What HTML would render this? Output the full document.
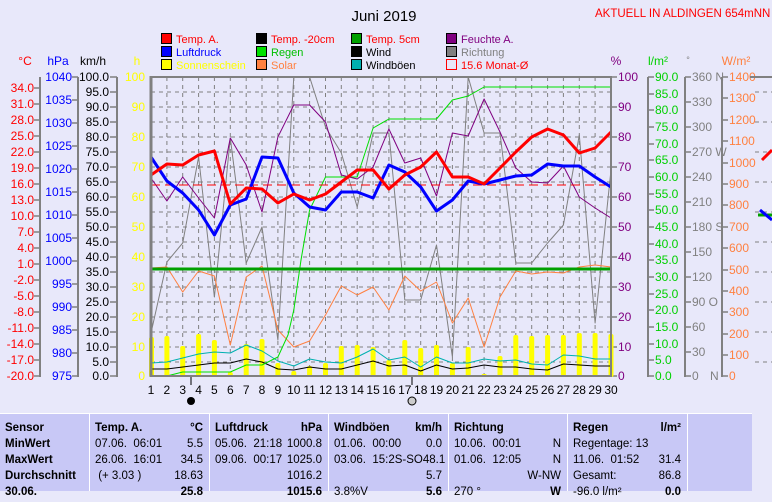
<!DOCTYPE html>
<html><head><meta charset="utf-8"><style>
body{margin:0;width:772px;height:490px;overflow:hidden;background:#e8e8fa;font-family:"Liberation Sans",sans-serif;position:relative}
svg{position:absolute;left:0;top:0}
svg text{font-family:"Liberation Sans",sans-serif;font-size:12px}
.tb{position:absolute;left:0;top:413px;width:752px;height:77px;background:#c8c8f6;border-top:1px solid #fff;font-size:11.5px;color:#000}
.c{position:absolute;top:0;height:77px;border-left:1px solid #fff}
.r{position:absolute;left:5px;right:6px;height:16px;display:flex;justify-content:space-between;white-space:nowrap}
.b{font-weight:bold}
</style></head><body>
<svg width="772" height="413" viewBox="0 0 772 413">
<text x="384" y="21" font-size="15" text-anchor="middle" style="font-size:15px">Juni 2019</text>
<text x="595" y="17" fill="#ff0000" style="font-size:11.5px">AKTUELL IN ALDINGEN 654mNN</text>
<!-- legend -->
<g style="font-size:11px" stroke="#000" stroke-width="1">
<rect x="161.5" y="33.5" width="10" height="10" fill="#ff0000"/><rect x="161.5" y="46.5" width="10" height="10" fill="#0000ff"/><rect x="161.5" y="59.5" width="10" height="10" fill="#ffff00"/>
<rect x="256.5" y="33.5" width="10" height="10" fill="#000"/><rect x="256.5" y="46.5" width="10" height="10" fill="#00e000"/><rect x="256.5" y="59.5" width="10" height="10" fill="#ff8040"/>
<rect x="351.5" y="33.5" width="10" height="10" fill="#00a000"/><rect x="351.5" y="46.5" width="10" height="10" fill="#000"/><rect x="351.5" y="59.5" width="10" height="10" fill="#00b0b0"/>
<rect x="446.5" y="33.5" width="10" height="10" fill="#800080"/><rect x="446.5" y="46.5" width="10" height="10" fill="#808080"/><rect x="446.5" y="59.5" width="10" height="10" fill="none" stroke="#ff0000"/>
</g>
<g style="font-size:11px" font-size="11">
<text x="176" y="43" fill="#ff0000" style="font-size:11px">Temp. A.</text><text x="176" y="56" fill="#0000ff" style="font-size:11px">Luftdruck</text><text x="176" y="69" fill="#ffff00" style="font-size:11px">Sonnenschein</text>
<text x="271" y="43" fill="#ff0000" style="font-size:11px">Temp. -20cm</text><text x="271" y="56" fill="#00c000" style="font-size:11px">Regen</text><text x="271" y="69" fill="#ff8040" style="font-size:11px">Solar</text>
<text x="366" y="43" fill="#ff0000" style="font-size:11px">Temp. 5cm</text><text x="366" y="56" fill="#000" style="font-size:11px">Wind</text><text x="366" y="69" fill="#000" style="font-size:11px">Windböen</text>
<text x="461" y="43" fill="#800080" style="font-size:11px">Feuchte A.</text><text x="461" y="56" fill="#808080" style="font-size:11px">Richtung</text><text x="461" y="69" fill="#ff0000" style="font-size:11px">15.6 Monat-Ø</text>
</g>
<!-- axis titles -->
<text x="25" y="65" fill="#ff0000" text-anchor="middle">°C</text>
<text x="58" y="65" fill="#0000ff" text-anchor="middle">hPa</text>
<text x="93" y="65" fill="#000" text-anchor="middle">km/h</text>
<text x="137" y="65" fill="#ffff00" text-anchor="middle">h</text>
<text x="616" y="65" fill="#800080" text-anchor="middle">%</text>
<text x="658" y="65" fill="#00d000" text-anchor="middle">l/m²</text>
<text x="688" y="63" fill="#808080" text-anchor="middle" style="font-size:9px">°</text>
<text x="736" y="65" fill="#ff8040" text-anchor="middle">W/m²</text>
<!-- axis lines -->
<g stroke="#808080" stroke-width="2" fill="none">
<line x1="40" y1="77" x2="40" y2="377"/><line x1="78" y1="77" x2="78" y2="377"/><line x1="117" y1="77" x2="117" y2="377"/>
<line x1="648" y1="77" x2="648" y2="377"/><line x1="685" y1="77" x2="685" y2="377"/><line x1="722" y1="77" x2="722" y2="377"/>
</g>
<!-- temp labels -->
<g fill="#ff0000" text-anchor="end">
<text x="34" y="92">34.0</text><text x="34" y="108">31.0</text><text x="34" y="124">28.0</text><text x="34" y="140">25.0</text><text x="34" y="156">22.0</text><text x="34" y="172">19.0</text><text x="34" y="188">16.0</text><text x="34" y="204">13.0</text><text x="34" y="220">10.0</text><text x="34" y="236">7.0</text><text x="34" y="252">4.0</text><text x="34" y="268">1.0</text><text x="34" y="284">-2.0</text><text x="34" y="300">-5.0</text><text x="34" y="316">-8.0</text><text x="34" y="332">-11.0</text><text x="34" y="348">-14.0</text><text x="34" y="364">-17.0</text><text x="34" y="380">-20.0</text>
</g>
<g stroke="#808080" stroke-width="1.5">
<path d="M34 88H40M34 104H40M34 120H40M34 136H40M34 152H40M34 168H40M34 184H40M34 200H40M34 216H40M34 232H40M34 248H40M34 264H40M34 280H40M34 296H40M34 312H40M34 328H40M34 344H40M34 360H40M34 376H40"/>
<path d="M72 77H78M72 100H78M72 123H78M72 146H78M72 169H78M72 192H78M72 215H78M72 238H78M72 261H78M72 284H78M72 307H78M72 330H78M72 353H78M72 376H78"/>
<path d="M110 77H117M110 92H117M110 107H117M110 122H117M110 137H117M110 152H117M110 167H117M110 182H117M110 197H117M110 212H117M110 227H117M110 242H117M110 257H117M110 272H117M110 287H117M110 302H117M110 317H117M110 332H117M110 347H117M110 362H117M110 376H117"/>
<path d="M611 77H617M611 107H617M611 137H617M611 167H617M611 197H617M611 227H617M611 257H617M611 287H617M611 317H617M611 347H617M611 376H617"/>
<path d="M648 77H654M648 94H654M648 110H654M648 127H654M648 144H654M648 160H654M648 177H654M648 194H654M648 210H654M648 227H654M648 244H654M648 260H654M648 277H654M648 294H654M648 310H654M648 327H654M648 344H654M648 360H654M648 376H654"/>
<path d="M685 77H691M685 102H691M685 127H691M685 152H691M685 177H691M685 202H691M685 227H691M685 252H691M685 277H691M685 302H691M685 327H691M685 352H691M685 376H691"/>
<path d="M722 77H728M722 98H728M722 120H728M722 141H728M722 163H728M722 184H728M722 205H728M722 227H728M722 248H728M722 270H728M722 291H728M722 312H728M722 334H728M722 355H728M722 376H728"/>
</g>
<g fill="#0000ff" text-anchor="end">
<text x="72" y="81">1040</text><text x="72" y="104">1035</text><text x="72" y="127">1030</text><text x="72" y="150">1025</text><text x="72" y="173">1020</text><text x="72" y="196">1015</text><text x="72" y="219">1010</text><text x="72" y="242">1005</text><text x="72" y="265">1000</text><text x="72" y="288">995</text><text x="72" y="311">990</text><text x="72" y="334">985</text><text x="72" y="357">980</text><text x="72" y="380">975</text>
</g>
<g fill="#000" text-anchor="end">
<text x="109" y="81">100.0</text><text x="109" y="96">95.0</text><text x="109" y="111">90.0</text><text x="109" y="126">85.0</text><text x="109" y="141">80.0</text><text x="109" y="156">75.0</text><text x="109" y="171">70.0</text><text x="109" y="186">65.0</text><text x="109" y="201">60.0</text><text x="109" y="216">55.0</text><text x="109" y="231">50.0</text><text x="109" y="246">45.0</text><text x="109" y="261">40.0</text><text x="109" y="276">35.0</text><text x="109" y="291">30.0</text><text x="109" y="306">25.0</text><text x="109" y="321">20.0</text><text x="109" y="336">15.0</text><text x="109" y="351">10.0</text><text x="109" y="366">5.0</text><text x="109" y="380">0.0</text>
</g>
<g fill="#ffff00" text-anchor="end">
<text x="145" y="81">100</text><text x="145" y="111">90</text><text x="145" y="141">80</text><text x="145" y="171">70</text><text x="145" y="201">60</text><text x="145" y="231">50</text><text x="145" y="261">40</text><text x="145" y="291">30</text><text x="145" y="321">20</text><text x="145" y="351">10</text><text x="145" y="380">0</text>
</g>
<g fill="#800080">
<text x="618" y="81">100</text><text x="618" y="111">90</text><text x="618" y="141">80</text><text x="618" y="171">70</text><text x="618" y="201">60</text><text x="618" y="231">50</text><text x="618" y="261">40</text><text x="618" y="291">30</text><text x="618" y="321">20</text><text x="618" y="351">10</text><text x="618" y="380">0</text>
</g>
<g fill="#00d000">
<text x="655" y="81">90.0</text><text x="655" y="98">85.0</text><text x="655" y="114">80.0</text><text x="655" y="131">75.0</text><text x="655" y="148">70.0</text><text x="655" y="164">65.0</text><text x="655" y="181">60.0</text><text x="655" y="198">55.0</text><text x="655" y="214">50.0</text><text x="655" y="231">45.0</text><text x="655" y="248">40.0</text><text x="655" y="264">35.0</text><text x="655" y="281">30.0</text><text x="655" y="298">25.0</text><text x="655" y="314">20.0</text><text x="655" y="331">15.0</text><text x="655" y="348">10.0</text><text x="655" y="364">5.0</text><text x="655" y="380">0.0</text>
</g>
<g fill="#808080">
<text x="692" y="81">360 N</text><text x="692" y="106">330</text><text x="692" y="131">300</text><text x="692" y="156">270 W</text><text x="692" y="181">240</text><text x="692" y="206">210</text><text x="692" y="231">180 S</text><text x="692" y="256">150</text><text x="692" y="281">120</text><text x="692" y="306">90  O</text><text x="692" y="331">60</text><text x="692" y="356">30</text><text x="692" y="380">0</text><text x="710" y="380">N</text>
</g>
<g fill="#ff8040">
<text x="729" y="81">1400</text><text x="729" y="102">1300</text><text x="729" y="124">1200</text><text x="729" y="145">1100</text><text x="729" y="167">1000</text><text x="729" y="188">900</text><text x="729" y="209">800</text><text x="729" y="231">700</text><text x="729" y="252">600</text><text x="729" y="274">500</text><text x="729" y="295">400</text><text x="729" y="316">300</text><text x="729" y="338">200</text><text x="729" y="359">100</text><text x="729" y="380">0</text>
</g>
<!-- grid -->
<g stroke="#808080" stroke-width="1" stroke-dasharray="4,4">
<path d="M151 92H611M151 107H611M151 122H611M151 137H611M151 152H611M151 167H611M151 182H611M151 197H611M151 212H611M151 227H611M151 242H611M151 257H611M151 272H611M151 287H611M151 302H611M151 317H611M151 332H611M151 347H611M151 362H611"/>
<path d="M166.9 77V376M182.7 77V376M198.6 77V376M214.4 77V376M230.3 77V376M246.2 77V376M262 77V376M277.9 77V376M293.8 77V376M309.6 77V376M325.5 77V376M341.3 77V376M357.2 77V376M373.1 77V376M388.9 77V376M404.8 77V376M420.7 77V376M436.5 77V376M452.4 77V376M468.2 77V376M484.1 77V376M500 77V376M515.8 77V376M531.7 77V376M547.6 77V376M563.4 77V376M579.3 77V376M595.1 77V376"/>
</g>
<!-- sunshine bars -->
<g fill="#ffff00">
<rect x="149" y="337" width="5" height="40" rx="2"/><rect x="164.4" y="336" width="5" height="41" rx="2"/><rect x="180.2" y="346" width="5" height="31" rx="2"/><rect x="196.1" y="334" width="5" height="43" rx="2"/><rect x="211.9" y="340" width="5" height="37" rx="2"/><rect x="227.8" y="372" width="5" height="5" rx="2"/><rect x="243.7" y="344" width="5" height="33" rx="2"/><rect x="259.5" y="339" width="5" height="38" rx="2"/><rect x="275.4" y="363" width="5" height="14" rx="2"/><rect x="291.3" y="371" width="5" height="6" rx="2"/><rect x="307.1" y="366" width="5" height="11" rx="2"/><rect x="323" y="363" width="5" height="14" rx="2"/><rect x="338.8" y="346" width="5" height="31" rx="2"/><rect x="354.7" y="345" width="5" height="32" rx="2"/><rect x="370.6" y="347" width="5" height="30" rx="2"/><rect x="386.4" y="360" width="5" height="17" rx="2"/><rect x="402.3" y="340" width="5" height="37" rx="2"/><rect x="418.2" y="348" width="5" height="29" rx="2"/><rect x="434" y="345" width="5" height="32" rx="2"/><rect x="449.9" y="363" width="5" height="14" rx="2"/><rect x="465.7" y="347" width="5" height="30" rx="2"/><rect x="481.6" y="374" width="5" height="3" rx="1"/><rect x="497.5" y="356" width="5" height="21" rx="2"/><rect x="513.3" y="335" width="5" height="42" rx="2"/><rect x="529.2" y="336" width="5" height="41" rx="2"/><rect x="545.1" y="335" width="5" height="42" rx="2"/><rect x="560.9" y="335" width="5" height="42" rx="2"/><rect x="576.8" y="333" width="5" height="44" rx="2"/><rect x="592.6" y="333" width="5" height="44" rx="2"/><rect x="608.5" y="334" width="5" height="43" rx="2"/>
</g>
<g fill="none" stroke-linejoin="round">
<polyline stroke="#808080" stroke-width="1" points="151,333 166.9,262 182.7,243 198.6,157 214.4,297 230.3,138 246.2,263 262,227 277.9,340 293.8,77 309.6,77 325.5,127 341.3,153 357.2,207 373.1,133 388.9,133 404.8,300 420.7,300 436.5,245 452.4,357 468.2,77 484.1,133 500,133 515.8,263 531.7,263 547.6,243 563.4,225 579.3,135 595.1,323 611,170"/>
<polyline stroke="#ff8040" stroke-width="1" points="151,268 166.9,267 182.7,292 198.6,271 214.4,276 230.3,345 246.2,277 262,266 277.9,330 293.8,347 309.6,341 325.5,315 341.3,286 357.2,295 373.1,287 388.9,310 404.8,276 420.7,291 436.5,282 452.4,323 468.2,298 484.1,347 500,297 515.8,271 531.7,274 547.6,272 563.4,273 579.3,267 595.1,265 611,267"/>
<polyline stroke="#00b0b0" stroke-width="1" points="151,363 166.9,362 182.7,358 198.6,354 214.4,352 230.3,353 246.2,345 262,351 277.9,361 293.8,366 309.6,359 325.5,362 341.3,363 357.2,357 373.1,349 388.9,360 404.8,357 420.7,367 436.5,357 452.4,363 468.2,363 484.1,359 500,361 515.8,360 531.7,364 547.6,365 563.4,355 579.3,356 595.1,359 611,359"/>
<polyline stroke="#000" stroke-width="1" points="151,369 166.9,369 182.7,367 198.6,365 214.4,363 230.3,363 246.2,359 262,362 277.9,369 293.8,370 309.6,367 325.5,369 341.3,369 357.2,365 373.1,361 388.9,366 404.8,365 420.7,371 436.5,365 452.4,369 468.2,368 484.1,365 500,367 515.8,367 531.7,369 547.6,370 563.4,364 579.3,365 595.1,366 611,366"/>
<polyline stroke="#00e000" stroke-width="1" points="166.9,376 182.7,372 198.6,372 214.4,372 230.3,372 246.2,365 262,365 277.9,357 288,335 293.8,310 301,260 309.6,210 325.5,177 341.3,177 357.2,177 373.1,128 388.9,119 404.8,119 420.7,119 436.5,119 452.4,100 468.2,96 484.1,87 611,87"/>
<polyline stroke="#800080" stroke-width="1" points="151,178 166.9,201 182.7,177 198.6,198 214.4,218 230.3,138 246.2,165 262,212 277.9,137 293.8,105 309.6,105 325.5,122 341.3,175 357.2,179 373.1,167 388.9,129 404.8,163 420.7,158 436.5,196 452.4,133 468.2,136 484.1,99 500,132 515.8,168 531.7,182 547.6,183 563.4,166 579.3,197 595.1,208 611,218"/>
<line x1="151" y1="185" x2="611" y2="185" stroke="#ff0000" stroke-width="1" stroke-dasharray="9,5"/>
<line x1="151" y1="269" x2="611" y2="269" stroke="#00a000" stroke-width="3"/>
<polyline stroke="#0000ff" stroke-width="3" points="151,157 166.9,181 182.7,193 198.6,210 214.4,235 230.3,205 246.2,199 262,157 277.9,158 293.8,193 309.6,207 325.5,210 341.3,192 357.2,192 373.1,198 388.9,165 404.8,172 420.7,187 436.5,211 452.4,200 468.2,181 484.1,184 500,180 515.8,176 531.7,175 547.6,164 563.4,166 579.3,166 595.1,177 611,187"/>
<polyline stroke="#ff0000" stroke-width="3" points="151,175 166.9,164 182.7,165 198.6,155 214.4,151 230.3,204 246.2,188 262,189 277.9,203 293.8,194 309.6,200 325.5,194 341.3,182 357.2,170 373.1,170 388.9,189 404.8,175 420.7,167 436.5,152 452.4,177 468.2,177 484.1,184 500,168 515.8,152 531.7,137 547.6,129 563.4,135 579.3,153 595.1,148 611,132"/>
</g>
<rect x="151" y="77" width="460" height="299" fill="none" stroke="#808080" stroke-width="2"/>
<line x1="151" y1="76" x2="151" y2="377" stroke="#808080" stroke-width="3"/>
<!-- x labels -->
<g fill="#000" text-anchor="middle">
<text x="151" y="394">1</text><text x="166.9" y="394">2</text><text x="182.7" y="394">3</text><text x="198.6" y="394">4</text><text x="214.4" y="394">5</text><text x="230.3" y="394">6</text><text x="246.2" y="394">7</text><text x="262" y="394">8</text><text x="277.9" y="394">9</text><text x="293.8" y="394">10</text><text x="309.6" y="394">11</text><text x="325.5" y="394">12</text><text x="341.3" y="394">13</text><text x="357.2" y="394">14</text><text x="373.1" y="394">15</text><text x="388.9" y="394">16</text><text x="404.8" y="394">17</text><text x="420.7" y="394">18</text><text x="436.5" y="394">19</text><text x="452.4" y="394">20</text><text x="468.2" y="394">21</text><text x="484.1" y="394">22</text><text x="500" y="394">23</text><text x="515.8" y="394">24</text><text x="531.7" y="394">25</text><text x="547.6" y="394">26</text><text x="563.4" y="394">27</text><text x="579.3" y="394">28</text><text x="595.1" y="394">29</text><text x="611" y="394">30</text>
</g>
<line x1="191" y1="377" x2="191" y2="385" stroke="#000"/>
<line x1="412" y1="377" x2="412" y2="385" stroke="#000"/>
<circle cx="191" cy="401" r="4" fill="#000"/>
<circle cx="412" cy="401" r="4" fill="#ccc" stroke="#000"/>
<!-- clipped neighbour chart -->
<g stroke="#808080" stroke-dasharray="4,4"><path d="M755 92H772M755 122H772M755 152H772M755 182H772M755 212H772M755 242H772M755 272H772M755 302H772M755 332H772M755 362H772"/></g>
<line x1="750" y1="77" x2="772" y2="77" stroke="#808080" stroke-width="2"/>
<line x1="758" y1="365" x2="772" y2="365" stroke="#00a000" stroke-width="3" transform="translate(0,-150)"/>
<polyline points="762,160 772,150" stroke="#ff0000" stroke-width="3" fill="none"/>
<polyline points="760,210 772,220" stroke="#0000ff" stroke-width="3" fill="none"/>
</svg>
<div class="tb">
<div class="c" style="left:0;width:88px;border-left:none">
<div class="r b" style="top:8px">Sensor</div><div class="r b" style="top:24px">MinWert</div><div class="r b" style="top:40px">MaxWert</div><div class="r b" style="top:56px">Durchschnitt</div><div class="r b" style="top:72px">30.06.</div></div>
<div class="c" style="left:89px;width:119px">
<div class="r b" style="top:8px"><span>Temp. A.</span><span>°C</span></div><div class="r" style="top:24px"><span>07.06.&nbsp; 06:01</span><span>5.5</span></div><div class="r" style="top:40px"><span>26.06.&nbsp; 16:01</span><span>34.5</span></div><div class="r" style="top:56px"><span>&nbsp;(+ 3.03 )</span><span>18.63</span></div><div class="r b" style="top:72px"><span></span><span>25.8</span></div></div>
<div class="c" style="left:209px;width:118px">
<div class="r b" style="top:8px"><span>Luftdruck</span><span>hPa</span></div><div class="r" style="top:24px"><span>05.06.&nbsp; 21:18</span><span>1000.8</span></div><div class="r" style="top:40px"><span>09.06.&nbsp; 00:17</span><span>1025.0</span></div><div class="r" style="top:56px"><span></span><span>1016.2</span></div><div class="r b" style="top:72px"><span></span><span>1015.6</span></div></div>
<div class="c" style="left:328px;width:119px">
<div class="r b" style="top:8px"><span>Windböen</span><span>km/h</span></div><div class="r" style="top:24px"><span>01.06.&nbsp; 00:00</span><span>0.0</span></div><div class="r" style="top:40px"><span>03.06.&nbsp; 15:2S-SO</span><span>48.1</span></div><div class="r" style="top:56px"><span></span><span>5.7</span></div><div class="r" style="top:72px"><span>3.8%V</span><span class="b">5.6</span></div></div>
<div class="c" style="left:448px;width:118px">
<div class="r b" style="top:8px"><span>Richtung</span><span></span></div><div class="r" style="top:24px"><span>10.06.&nbsp; 00:01</span><span>N</span></div><div class="r" style="top:40px"><span>01.06.&nbsp; 12:05</span><span>N</span></div><div class="r" style="top:56px"><span></span><span>W-NW</span></div><div class="r" style="top:72px"><span>270 °</span><span class="b">W</span></div></div>
<div class="c" style="left:567px;width:119px">
<div class="r b" style="top:8px"><span>Regen</span><span>l/m²</span></div><div class="r" style="top:24px"><span>Regentage: 13</span><span></span></div><div class="r" style="top:40px"><span>11.06.&nbsp; 01:52</span><span>31.4</span></div><div class="r" style="top:56px"><span>Gesamt:</span><span>86.8</span></div><div class="r" style="top:72px"><span>-96.0 l/m²</span><span class="b">0.0</span></div></div>
<div class="c" style="left:687px;width:65px"></div>
</div>
</body></html>
